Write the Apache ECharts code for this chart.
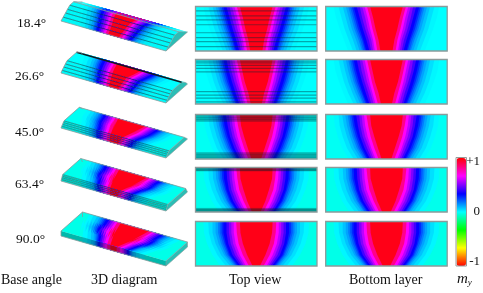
<!DOCTYPE html>
<html><head><meta charset="utf-8">
<style>html,body{margin:0;padding:0;background:#fff}#c{width:483px;height:293px}</style>
<script src="https://cdn.jsdelivr.net/npm/echarts@6/dist/echarts.min.js"></script>
</head><body><div id="c"></div>
<script>
// ---------- tick and row labels ----------
const baseAngles = ['18.4°', '26.6°', '45.0°', '63.4°', '90.0°'];
const columnTitles = ['Base angle', '3D diagram', 'Top view', 'Bottom layer'];
const colorbarTicks = { '1': '+1', '0': '0', '-1': '-1' };

// ---------- m_y contour levels ----------
const levels = [0.01, 0.04, 0.08, 0.12, 0.17, 0.22, 0.28, 0.34, 0.42, 0.50, 0.58, 0.67, 0.82, 0.97];
// colour bar stops from m_y=-1 to m_y=+1
const colorStops = ['#ff0000', '#ffff00', '#00ff00', '#00ffff', '#0000ff', '#ff00ff', '#ff0000'];

// contour half-widths (fraction of half panel) for each level; rows: back edge, 1/4, 1/2, 3/4, front edge
const field184 = [
  [.87,.79,.72,.67,.63,.60,.57,.54,.49,.44,.40,.36,.32,.27],
  [.83,.74,.67,.62,.58,.55,.52,.49,.44,.40,.35,.31,.27,.22],
  [.77,.69,.62,.57,.53,.50,.47,.44,.39,.35,.31,.27,.23,.18],
  [.70,.62,.55,.50,.46,.43,.40,.38,.33,.29,.25,.22,.18,.13],
  [.63,.55,.49,.44,.40,.38,.35,.33,.28,.25,.22,.19,.15,.10]
];
const field266 = [
  [.87,.79,.72,.67,.63,.60,.57,.54,.49,.44,.40,.36,.32,.27],
  [.84,.75,.68,.63,.59,.56,.53,.50,.45,.41,.36,.32,.28,.23],
  [.78,.70,.63,.58,.54,.51,.48,.45,.40,.36,.32,.28,.24,.19],
  [.71,.63,.56,.51,.47,.44,.41,.39,.34,.30,.26,.23,.19,.13],
  [.63,.54,.48,.43,.39,.37,.34,.32,.28,.25,.21,.18,.14,.09]
];
const field450 = [
  [.87,.79,.73,.68,.64,.61,.58,.55,.50,.45,.41,.37,.33,.27],
  [.85,.77,.70,.65,.61,.58,.55,.52,.47,.43,.39,.35,.30,.25],
  [.80,.72,.65,.60,.56,.53,.50,.47,.43,.39,.35,.31,.26,.20],
  [.73,.65,.58,.53,.49,.46,.43,.40,.36,.32,.28,.25,.20,.14],
  [.62,.54,.47,.42,.38,.36,.33,.31,.27,.24,.21,.18,.13,.08]
];
const field634 = [
  [.87,.79,.72,.67,.63,.60,.57,.54,.49,.45,.41,.37,.33,.27],
  [.86,.78,.71,.66,.62,.59,.56,.53,.48,.44,.40,.36,.31,.26],
  [.81,.73,.66,.61,.57,.54,.51,.49,.45,.41,.37,.33,.28,.21],
  [.73,.65,.58,.53,.49,.47,.44,.42,.38,.34,.30,.26,.21,.15],
  [.61,.52,.45,.40,.37,.35,.32,.30,.27,.24,.20,.17,.12,.07]
];
const field900 = [
  [.87,.79,.72,.67,.63,.60,.57,.54,.49,.45,.41,.37,.33,.27],
  [.86,.78,.72,.67,.63,.60,.57,.54,.49,.45,.41,.37,.32,.26],
  [.81,.73,.67,.62,.58,.55,.52,.50,.46,.42,.38,.34,.29,.22],
  [.72,.64,.58,.53,.50,.47,.45,.43,.39,.35,.31,.27,.22,.15],
  [.59,.50,.43,.38,.35,.33,.31,.29,.26,.23,.20,.17,.12,.06]
];
const fields = [field184, field266, field450, field634, field900];
// m_y outside the outermost contour
const outerValues = [0, 0, -0.015, -0.025, -0.03];

// ---------- layered cross-section: width position, relative height ----------
const profile184 = [[0,0],[.10,.25],[.21,.5],[.30,.75],[.41,1],[.59,1],[.70,.75],[.79,.5],[.90,.25],[1,0]];
const profile266 = [[0,0],[.05,.25],[.13,.5],[.20,.75],[.28,1],[.724,1],[.80,.8],[.866,.6],[.925,.4],[.963,.2],[1,0]];
const profile450 = [[0,0],[.035,.25],[.07,.5],[.105,.75],[.14,1],[.85,1],[.89,.75],[.93,.5],[.97,.25],[1,0]];
const profile634 = [[0,0],[.02,.25],[.04,.5],[.06,.75],[.08,1],[.92,1],[.94,.75],[.96,.5],[.98,.25],[1,0]];
const profile900 = [[0,0],[0,1],[1,1],[1,0]];
const profiles = [profile184, profile266, profile450, profile634, profile900];

// ---------- layout and style ----------
const rowTops = [6.5, 59.5, 114.5, 167.5, 221.5];
const panelH = 44.5, panelW = 121.5;
const topViewLeft = 195.5, bottomLayerLeft = 325.7;
const origin3D = [[61,21],[61,73],[61,128],[61,181],[61,236]];
const lengthVec = [105, 30], widthVec = [21.5, -19];
const stackHeights = [8, 7, 4.5, 5, 5];
const shade3D = [0.03, 0.03, 0.1, 0.16, 0.3];
const shadeTop = [0, 0, 0.22, 0.42, 0];
const lineAlpha3D = [0.55, 0.55, 0.45, 0.4, 0];
const lineAlphaTop = [0.4, 0.4, 0.25, 0.12, 0];
const endFaceColor = '#2cbdb5', frameColor = '#8c9a9a';
const serif = '"Liberation Serif", "Times New Roman", serif';
const labelLefts = [17, 15, 15, 15, 16], labelCentres = [24, 77, 133, 185, 240];
const titleLefts = [1, 91, 229, 349], titleY = 281.5;

// ---------- helpers ----------
function hex(c){return [1,3,5].map(i=>parseInt(c.substr(i,2),16));}
function colorOf(v){
  const p=(v+1)/2*(colorStops.length-1), i=Math.min(Math.floor(p),colorStops.length-2), f=p-i;
  const a=hex(colorStops[i]), b=hex(colorStops[i+1]);
  return 'rgb('+a.map((x,k)=>Math.round(x+(b[k]-x)*f)).join(',')+')';
}
function halfWidth(field, li, t){
  const p=Math.min(t,1)*(field.length-1), i=Math.min(Math.floor(p),field.length-2), f=p-i;
  return field[i][li]+(field[i+1][li]-field[i][li])*f;
}

// ---------- series ----------
const grids=[], xAxes=[], yAxes=[], series=[];
function addGrid(g,x,y){grids.push(g);xAxes.push(Object.assign({show:false,type:'value',gridIndex:grids.length-1},x));yAxes.push(Object.assign({show:false,type:'value',gridIndex:grids.length-1},y));return grids.length-1;}

function flatPanel(row, left, withLayers){
  const gi=addGrid({left,top:rowTops[row],width:panelW,height:panelH},{min:-1,max:1},{min:0,max:1,inverse:true});
  const field=fields[row], prof=profiles[row];
  const items=[{kind:'bg'}].concat(levels.map((l,i)=>({kind:'level',li:i})));
  if(withLayers){
    for(let i=0;i<prof.length-1;i++){
      if(prof[i][1]!==prof[i+1][1]&&prof[i][0]!==prof[i+1][0]&&shadeTop[row]>0) items.push({kind:'shade',a:1-prof[i+1][0],b:1-prof[i][0]});
    }
    prof.forEach((p,i)=>{ if(p[0]>0&&p[0]<1&&row<4) items.push({kind:'line',t:1-p[0]}); });
  }
  items.push({kind:'frame'});
  series.push({type:'custom',coordinateSystem:'cartesian2d',xAxisIndex:gi,yAxisIndex:gi,silent:true,clip:false,animation:false,
    data:items.map((_,i)=>[i]),
    renderItem(params,api){
      const it=items[params.dataIndex], c=(x,t)=>api.coord([x,t]);
      if(it.kind==='bg'){const pts=[c(-1,0),c(1,0),c(1,1),c(-1,1)];return {type:'polygon',shape:{points:pts},style:{fill:colorOf(outerValues[row])}};}
      if(it.kind==='level'){
        const ts=[0,.25,.5,.75,1], L=ts.map(t=>c(-halfWidth(field,it.li,t),t)), R=ts.map(t=>c(halfWidth(field,it.li,t),t)).reverse();
        return {type:'polygon',shape:{points:L.concat(R)},style:{fill:colorOf(levels[it.li])}};
      }
      if(it.kind==='shade'){const pts=[c(-1,it.a),c(1,it.a),c(1,it.b),c(-1,it.b)];return {type:'polygon',shape:{points:pts},style:{fill:'rgba(0,30,40,'+shadeTop[row]+')'}};}
      if(it.kind==='line'){const a=c(-1,it.t),b=c(1,it.t);return {type:'line',shape:{x1:a[0],y1:a[1],x2:b[0],y2:b[1]},style:{stroke:'rgba(0,40,50,'+lineAlphaTop[row]+')',lineWidth:1.2}};}
      const pts=[c(-1,0),c(1,0),c(1,1),c(-1,1)];
      return {type:'polygon',shape:{points:pts},style:{fill:'none',stroke:frameColor,lineWidth:1.3}};
    }});
}

const sceneGrid=addGrid({left:0,top:0,width:190,height:293},{min:0,max:190},{min:0,max:293,inverse:true});
function diagram3D(row){
  const field=fields[row], prof=profiles[row], O=origin3D[row], H=stackHeights[row];
  const P=(u,v,z)=>[O[0]+u*lengthVec[0]+v*widthVec[0], O[1]+u*lengthVec[1]+v*widthVec[1]-z*H];
  const items=[];
  const flatEnd=prof.findIndex((p,i)=>i>0&&p[1]<prof[i-1][1])-1;
  // back to front
  for(let i=prof.length-2;i>=0;i--){
    const a=prof[i], b=prof[i+1];
    const pa=P(0,a[0],a[1]), pb=P(0,b[0],b[1]);
    const cross=lengthVec[0]*(pb[1]-pa[1])-lengthVec[1]*(pb[0]-pa[0]);
    if(cross>=-1) continue;
    items.push({kind:'sbg',a,b});
    levels.forEach((l,li)=>items.push({kind:'slevel',li,a,b}));
    const sloped=a[1]!==b[1];
    const isFront=i<flatEnd;
    if(sloped&&shade3D[row]>0) items.push({kind:'sshade',a,b});
    if(sloped&&isFront&&lineAlpha3D[row]>0) items.push({kind:'sline',p:b,alpha:lineAlpha3D[row]});
  }
  items.push({kind:'end'}); items.push({kind:'back'}); items.push({kind:'left'}); items.push({kind:'front'});
  const backA=P(0,prof[flatEnd][0],1), backB=P(1,prof[flatEnd][0],1);
  series.push({type:'custom',coordinateSystem:'cartesian2d',xAxisIndex:sceneGrid,yAxisIndex:sceneGrid,silent:true,clip:false,animation:false,
    data:items.map((_,i)=>[i]),
    renderItem(params,api){
      const it=items[params.dataIndex], c=p=>api.coord(p);
      const quad=(a,b)=>[P(0,a[0],a[1]),P(1,a[0],a[1]),P(1,b[0],b[1]),P(0,b[0],b[1])].map(c);
      if(it.kind==='sbg') return {type:'polygon',shape:{points:quad(it.a,it.b)},style:{fill:colorOf(outerValues[row])}};
      if(it.kind==='sshade') return {type:'polygon',shape:{points:quad(it.a,it.b)},style:{fill:'rgba(0,20,30,'+shade3D[row]+')'}};
      if(it.kind==='slevel'){
        // strip maps width fraction v -> top-view row t = 1-v
        const n=it.b[0]-it.a[0];
        const vs=[it.a[0]];
        [.25,.5,.75].forEach(t=>{const v=1-t; if(v>it.a[0]+1e-6&&v<it.b[0]-1e-6) vs.push(v);});
        vs.push(it.b[0]);
        const zs=vs.map((v,k)=>n<1e-9?(k?it.b[1]:it.a[1]):it.a[1]+(it.b[1]-it.a[1])*(v-it.a[0])/n);
        const toU=(v,s)=>0.5+s*halfWidth(field,it.li,1-v)/2;
        const pts=[];
        vs.forEach((v,k)=>pts.push(P(toU(v,-1),v,zs[k])));
        for(let k=vs.length-1;k>=0;k--) pts.push(P(toU(vs[k],1),vs[k],zs[k]));
        return {type:'polygon',shape:{points:pts.map(c)},style:{fill:colorOf(levels[it.li])}};
      }
      if(it.kind==='sline'){
        const a=c(P(0,it.p[0],it.p[1])), b=c(P(1,it.p[0],it.p[1]));
        return {type:'line',shape:{x1:a[0],y1:a[1],x2:b[0],y2:b[1]},style:{stroke:'rgba(0,30,40,'+it.alpha+')',lineWidth:0.9}};
      }
      if(it.kind==='end') return {type:'polygon',shape:{points:prof.map(p=>c(P(1,p[0],p[1])))},style:{fill:endFaceColor,stroke:frameColor,lineWidth:0.6}};
      if(it.kind==='back'){
        const a=c(backA), b=c(backB);
        return {type:'line',shape:{x1:a[0],y1:a[1],x2:b[0],y2:b[1]},style:{stroke:row===1?'#101820':frameColor,lineWidth:row===1?1.5:0.8}};
      }
      if(it.kind==='left') return {type:'polyline',shape:{points:prof.map(p=>c(P(0,p[0],p[1])))},style:{fill:'none',stroke:frameColor,lineWidth:0.8}};
      const a=c(P(0,0,0)), b=c(P(1,0,0));
      return {type:'line',shape:{x1:a[0],y1:a[1],x2:b[0],y2:b[1]},style:{stroke:frameColor,lineWidth:0.8}};
    }});
}

baseAngles.forEach((_,r)=>{diagram3D(r);flatPanel(r,topViewLeft,true);flatPanel(r,bottomLayerLeft,false);});

// colour bar: axis carries the tick labels, visualMap draws the gradient
const barGrid=addGrid({left:456.5,top:162,width:9.5,height:100},{min:0,max:1},{min:-1,max:1,interval:1});
Object.assign(yAxes[barGrid],{show:true,position:'right',axisLine:{show:false},axisTick:{show:false},splitLine:{show:false},
  axisLabel:{margin:16,align:'right',fontFamily:serif,fontSize:13,color:'#111',formatter:v=>colorbarTicks[String(v)]}});

const graphicEls=[];
baseAngles.forEach((s,i)=>graphicEls.push({type:'text',left:labelLefts[i],top:labelCentres[i]-8,style:{text:s,fontFamily:serif,fontSize:13.5,fill:'#111'}}));
columnTitles.forEach((s,i)=>graphicEls.push({type:'text',left:titleLefts[i],top:titleY-8,style:{text:s,fontFamily:serif,fontSize:14,fill:'#111'}}));
graphicEls.push({type:'text',left:457,top:titleY-10,style:{rich:{m:{fontFamily:serif,fontStyle:'italic',fontSize:15,fill:'#111'},s:{fontFamily:serif,fontStyle:'italic',fontSize:9,fill:'#111',padding:[7,0,0,0]}},text:'{m|m}{s|y}'}});
graphicEls.push({type:'rect',z:100,shape:{x:456,y:157.5,width:10.5,height:108.5},style:{fill:'none',stroke:'#999',lineWidth:1}});

const chart=echarts.init(document.getElementById('c'),null,{renderer:'canvas'});
chart.setOption({
  animation:false,backgroundColor:'#fff',
  grid:grids,xAxis:xAxes,yAxis:yAxes,series,
  visualMap:{type:'continuous',min:-1,max:1,seriesIndex:[],calculable:false,showLabel:false,text:null,left:456.5,top:158,itemWidth:9.5,itemHeight:108,padding:0,
    inRange:{color:colorStops.slice()},borderWidth:0},
  graphic:graphicEls
});
</script></body></html>
